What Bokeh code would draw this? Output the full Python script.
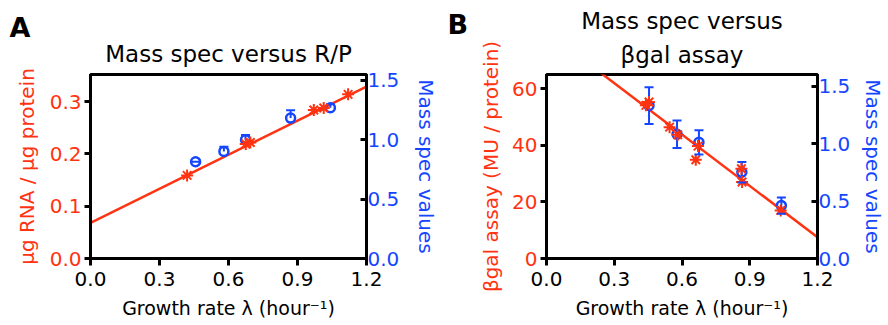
from bokeh.plotting import figure
from bokeh.models import Range1d, LinearAxis, FixedTicker, PrintfTickFormatter, Title
from bokeh.layouts import row
from bokeh.embed import file_html
from bokeh.resources import INLINE

# ---------------- data ----------------
x_ticks = [0.0, 0.3, 0.6, 0.9, 1.2]
fit_x = [0.0, 1.2]

# Panel A: RNA/protein (left axis) and mass spec (right axis)
a_star_x = [0.42, 0.675, 0.695, 0.971, 1.014, 1.12]
a_star_y = [0.159, 0.219, 0.222, 0.284, 0.288, 0.314]
a_fit_y = [0.068, 0.329]
a_ms_x = [0.457, 0.58, 0.674, 0.87, 1.043]
a_ms_y = [0.815, 0.902, 1.0, 1.183, 1.27]
a_ms_err = [0.0, 0.04, 0.04, 0.065, 0.03]
a_left_ticks = [0.0, 0.1, 0.2, 0.3]
a_right_ticks = [0.0, 0.5, 1.0, 1.5]

# Panel B: beta-gal assay (left axis) and mass spec (right axis)
b_star_x = [0.44, 0.454, 0.545, 0.581, 0.661, 0.671, 0.863, 0.866, 1.037]
b_star_y = [54.1, 55.3, 46.4, 43.7, 34.9, 39.7, 31.7, 27.0, 17.0]
b_fit_y = [80.1, 7.5]
b_ms_x = [0.454, 0.578, 0.675, 0.865, 1.04]
b_ms_y = [1.33, 1.08, 1.01, 0.75, 0.46]
b_ms_err = [0.16, 0.12, 0.105, 0.09, 0.07]
b_left_ticks = [0, 20, 40, 60]
b_right_ticks = [0.0, 0.5, 1.0, 1.5]

RED = "#FF3311"
BLUE = "#1446FF"
FONT = "DejaVu Sans"
XLABEL = "Growth rate \u03bb (hour\u207b\u00b9)"


def make_panel(width, left_border, right_border, yrange, right_range, left_ticks,
               left_fmt, right_ticks, left_label, titles, letter,
               star_x, star_y, fit_y, ms_x, ms_y, ms_up, ms_down,
               left_label_standoff, right_label_standoff):
    p = figure(width=width, height=325, output_backend="svg", toolbar_location=None,
               x_range=Range1d(0, 1.2), y_range=Range1d(*yrange),
               min_border_left=left_border, min_border_right=right_border,
               min_border_top=74, min_border_bottom=67, title=None)
    p.grid.visible = False
    p.outline_line_color = "black"
    p.outline_line_width = 3
    p.background_fill_color = "white"
    p.border_fill_color = "white"

    p.extra_y_ranges = {"ms": Range1d(*right_range)}

    # x axis
    xa = p.xaxis[0]
    xa.ticker = FixedTicker(ticks=x_ticks)
    xa.formatter = PrintfTickFormatter(format="%.1f")
    xa.axis_label = XLABEL
    xa.axis_label_text_font = FONT
    xa.axis_label_text_font_size = "19px"
    xa.axis_label_text_font_style = "normal"
    xa.axis_label_text_color = "black"
    xa.axis_label_standoff = 8
    xa.major_label_text_font = FONT
    xa.major_label_text_font_size = "20px"
    xa.major_label_text_color = "black"
    xa.major_label_standoff = 6
    xa.axis_line_width = 3
    xa.major_tick_line_width = 3
    xa.major_tick_out = 7
    xa.major_tick_in = 0
    xa.minor_tick_line_color = None

    # left axis
    ya = p.yaxis[0]
    ya.ticker = FixedTicker(ticks=left_ticks)
    ya.formatter = PrintfTickFormatter(format=left_fmt)
    ya.axis_label = left_label
    ya.axis_label_text_font = FONT
    ya.axis_label_text_font_size = "20px"
    ya.axis_label_text_font_style = "normal"
    ya.axis_label_text_color = RED
    ya.axis_label_standoff = left_label_standoff
    ya.major_label_text_font = FONT
    ya.major_label_text_font_size = "20px"
    ya.major_label_text_color = RED
    ya.major_label_standoff = 3
    ya.axis_line_width = 3
    ya.major_tick_line_width = 3
    ya.major_tick_out = 6
    ya.major_tick_in = 0
    ya.minor_tick_line_color = None

    # right axis
    ra = LinearAxis(y_range_name="ms", ticker=FixedTicker(ticks=right_ticks),
                    formatter=PrintfTickFormatter(format="%.1f"))
    ra.axis_label = "Mass spec values"
    ra.axis_label_text_font = FONT
    ra.axis_label_text_font_size = "20px"
    ra.axis_label_text_font_style = "normal"
    ra.axis_label_text_color = BLUE
    ra.axis_label_standoff = right_label_standoff
    ra.major_label_text_font = FONT
    ra.major_label_text_font_size = "20px"
    ra.major_label_text_color = BLUE
    ra.major_label_standoff = 1
    ra.axis_line_width = 3
    ra.major_tick_line_width = 3
    ra.major_tick_out = 0
    ra.major_tick_in = 6
    ra.minor_tick_line_color = None
    p.add_layout(ra, "right")

    # titles (first added is closest to the frame)
    for txt, standoff in titles:
        p.add_layout(Title(text=txt, align="center", text_font=FONT,
                           text_font_size="23px", text_font_style="normal",
                           text_color="black", standoff=standoff), "above")

    # panel letter: outermost title, shifted left and pulled down
    p.add_layout(Title(text=letter[0], align="left", offset=letter[1],
                       standoff=letter[2], text_font=FONT, text_font_size="27px",
                       text_font_style="bold", text_color="black"), "above")

    # fit line
    p.line(fit_x, fit_y, line_color=RED, line_width=2.5)

    # mass spec points with error bars
    x0 = list(ms_x)
    p.segment(x0=x0, y0=ms_down, x1=x0, y1=ms_up, line_color=BLUE, line_width=2,
              y_range_name="ms")
    p.scatter(x0, ms_up, marker="dash", size=9, line_color=BLUE, line_width=2,
              y_range_name="ms")
    p.scatter(x0, ms_y, marker="circle", size=9, fill_color="white", fill_alpha=0,
              line_color=BLUE, line_width=2.5, y_range_name="ms")

    # assay points
    p.scatter(star_x, star_y, marker="asterisk", size=12, line_color=RED, line_width=2)
    return p


a_up = [v + e for v, e in zip(a_ms_y, a_ms_err)]
a_down = list(a_ms_y)
pa = make_panel(444, 90, 78, (0, 0.352), (0, 1.55), a_left_ticks, "%.1f", a_right_ticks,
                "\u00b5g RNA / \u00b5g protein", [("Mass spec versus R/P", 15)],
                ("A", -81, -22), a_star_x, a_star_y, a_fit_y, a_ms_x, a_ms_y, a_up, a_down,
                8, 12)

b_up = [v + e for v, e in zip(b_ms_y, b_ms_err)]
b_down = [v - e for v, e in zip(b_ms_y, b_ms_err)]
pb = make_panel(444, 102, 66, (0, 65), (0, 1.6), b_left_ticks, "%d", b_right_ticks,
                "\u03b2gal assay (MU / protein)",
                [("\u03b2gal assay", 13), ("Mass spec versus", 0)],
                ("B", -99, -68), b_star_x, b_star_y, b_fit_y, b_ms_x, b_ms_y, b_up, b_down,
                6, 8)
# lower caps for panel B error bars
pb.scatter(b_ms_x, b_down, marker="dash", size=9, line_color=BLUE, line_width=2,
           y_range_name="ms")

layout = row(pa, pb, spacing=0)
open("out.html", "w").write(file_html(layout, INLINE))
